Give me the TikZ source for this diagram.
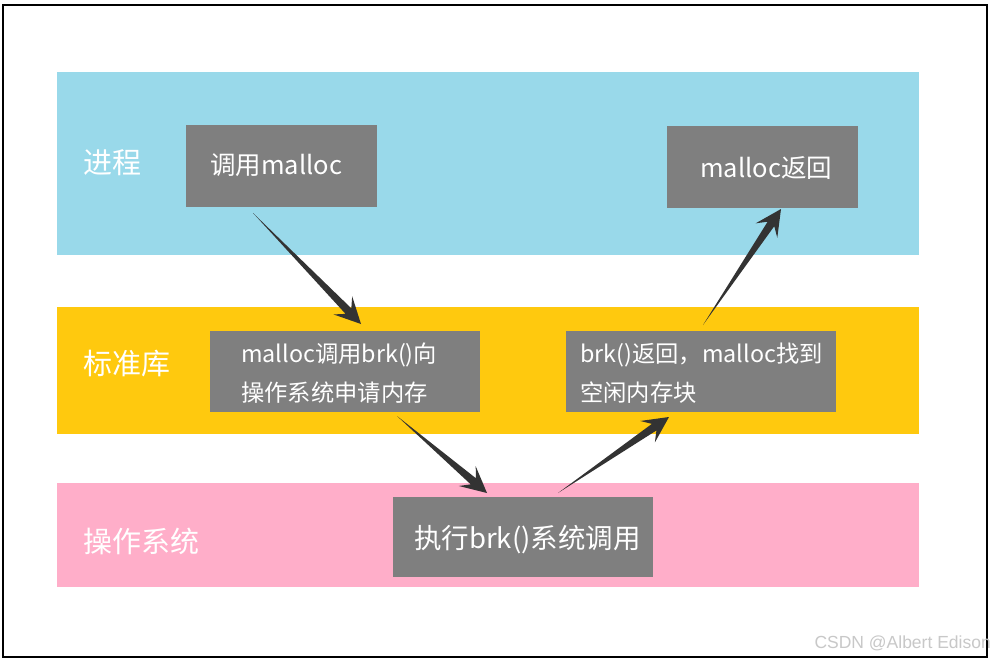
\documentclass[tikz,border=0pt]{standalone}
\usepackage{fontspec}
\setmainfont{Noto Sans CJK SC}
\newfontfamily\wmfont{Liberation Sans}
\usetikzlibrary{calc}
\definecolor{bandblue}{HTML}{99D9EA}
\definecolor{bandyellow}{HTML}{FFC90E}
\definecolor{bandpink}{HTML}{FFAEC9}
\definecolor{boxgray}{HTML}{7F7F7F}
\definecolor{arrowc}{HTML}{333333}
\definecolor{wmgray}{HTML}{C8C8C8}
\tikzset{
  band/.style={fill=#1, draw=none, inner sep=0, anchor=north west},
  gbox/.style={fill=boxgray, draw=none, inner sep=0, anchor=north west},
  lbl/.style={text=white, font=\fontsize{29}{34}\selectfont, anchor=west, inner sep=0},
  btxt/.style={text=white, font=\fontsize{23.3}{39}\selectfont, inner sep=0, align=left, anchor=west},
  bigtxt/.style={text=white, font=\fontsize{#1}{30}\selectfont, inner sep=0, anchor=west},
}
\newcommand\taparrow[2]{%
  \coordinate (h1) at ($(#2)!18pt!(#1)$);
  \coordinate (h2) at ($(#2)!26pt!(#1)$);
  \fill[arrowc] (#1) -- ($(h1)!4pt!90:(#2)$) -- ($(h2)!13pt!90:(#2)$) -- (#2)
     -- ($(h2)!13pt!-90:(#2)$) -- ($(h1)!4pt!-90:(#2)$) -- cycle;}
\begin{document}
\begin{tikzpicture}[x=1pt,y=-1pt]
\useasboundingbox (0,0) rectangle (991,661);
\fill[white] (0,0) rectangle (991,661);
\draw[black, line width=1.3pt] (3,5) rectangle (987,657);
% bands
\node[band=bandblue, minimum width=862pt, minimum height=183pt] (bproc) at (57,72) {};
\node[band=bandyellow, minimum width=862pt, minimum height=127pt] (blib) at (57,307) {};
\node[band=bandpink, minimum width=862pt, minimum height=104pt] (bos) at (57,483) {};
% band labels
\node[lbl] (lproc) at (83,163) {进程};
\node[lbl] (llib) at (83,364) {标准库};
\node[lbl] (los) at (83,541) {操作系统};
% boxes
\node[gbox, minimum width=191pt, minimum height=82pt] (b1) at (186,125) {};
\node[gbox, minimum width=191pt, minimum height=82pt] (b5) at (667,126) {};
\node[gbox, minimum width=270pt, minimum height=81pt] (b2) at (210,331) {};
\node[gbox, minimum width=270pt, minimum height=81pt] (b4) at (566,331) {};
\node[gbox, minimum width=260pt, minimum height=80pt] (b3) at (393,497) {};
% box texts
\node[bigtxt=25.5] (t1) at (210,165) {调用malloc};
\node[bigtxt=25.5] (t5) at (700,168) {malloc返回};
\node[btxt] (t2) at (241,373) {malloc调用brk()向\\操作系统申请内存};
\node[btxt] (t4) at (580,373) {brk()返回，malloc找到\\空闲内存块};
\node[bigtxt=27.5] (t3) at (414,540) {执行brk()系统调用};
% arrows
\coordinate (a1s) at (253,213); \coordinate (a1e) at (361,324);
\coordinate (a2s) at (397,416); \coordinate (a2e) at (487,493);
\coordinate (a3s) at (558,493); \coordinate (a3e) at (669,417);
\coordinate (a4s) at (703,325); \coordinate (a4e) at (781,209);
\taparrow{a1s}{a1e}
\taparrow{a2s}{a2e}
\taparrow{a3s}{a3e}
\taparrow{a4s}{a4e}
% watermark
\node[text=wmgray, font=\wmfont\fontsize{17.5}{20}\selectfont, anchor=east, inner sep=0] (wm) at (991,643) {CSDN @Albert Edison};
\end{tikzpicture}
\end{document}
